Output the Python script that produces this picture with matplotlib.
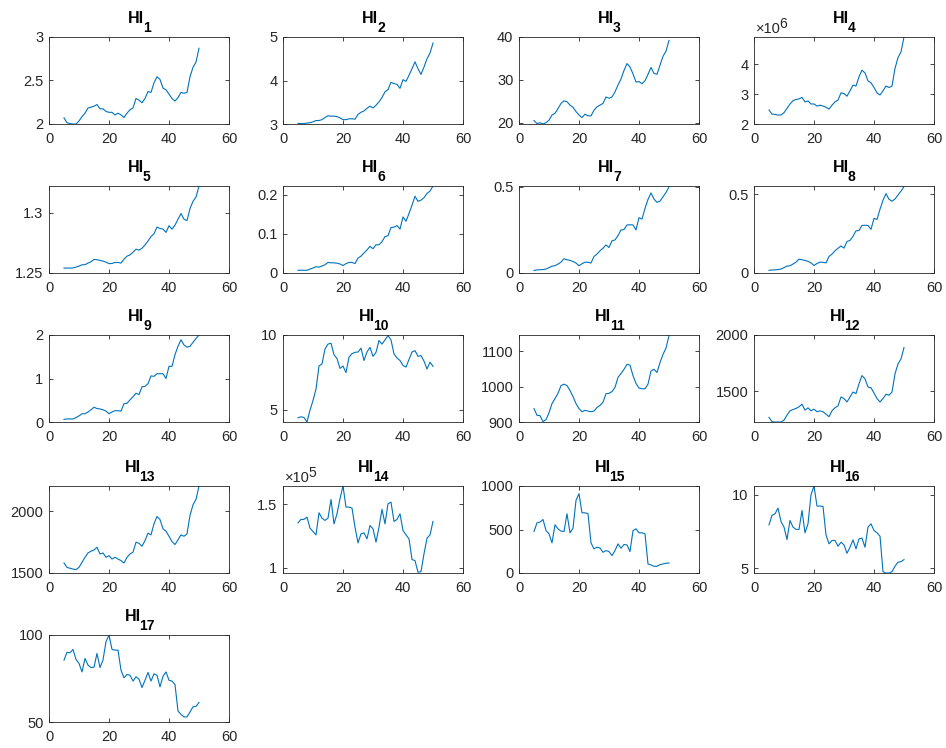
import numpy as np
import matplotlib
matplotlib.use("Agg")
import matplotlib.pyplot as plt
from matplotlib.textpath import TextPath
from matplotlib.font_manager import FontProperties

plt.rcParams['font.family'] = ['Liberation Sans', 'DejaVu Sans']

x = list(range(5, 51))

hi1 = [2.065, 2.01, 2.00, 1.995, 1.995, 2.03, 2.08, 2.12, 2.18, 2.19, 2.20, 2.22, 2.17, 2.17, 2.14, 2.13,
       2.13, 2.10, 2.12, 2.10, 2.07, 2.12, 2.16, 2.18, 2.29, 2.27, 2.24, 2.29, 2.37, 2.36, 2.47, 2.54,
       2.51, 2.41, 2.39, 2.34, 2.29, 2.26, 2.30, 2.36, 2.35, 2.36, 2.54, 2.65, 2.71, 2.87]
hi2 = [3.015, 3.01, 3.01, 3.02, 3.03, 3.05, 3.08, 3.08, 3.10, 3.15, 3.19, 3.18, 3.18, 3.17, 3.14, 3.10,
       3.10, 3.12, 3.12, 3.11, 3.22, 3.27, 3.30, 3.36, 3.41, 3.37, 3.43, 3.51, 3.61, 3.74, 3.79, 3.96,
       3.93, 3.91, 3.82, 4.02, 3.98, 4.12, 4.27, 4.43, 4.27, 4.14, 4.31, 4.50, 4.63, 4.86]
hi3 = [20.5, 19.8, 20.0, 19.7, 20.0, 20.6, 21.8, 22.2, 23.3, 24.5, 25.1, 24.9, 24.1, 23.6, 22.6, 21.8,
       21.2, 22.0, 21.6, 21.6, 22.9, 23.7, 24.1, 24.5, 26.0, 25.7, 26.0, 27.2, 28.8, 30.2, 32.2, 33.8,
       33.0, 31.4, 29.5, 29.6, 29.1, 29.8, 31.3, 32.9, 31.5, 31.3, 33.4, 35.5, 36.7, 39.2]
# units of 1e6
hi4 = [2.47, 2.33, 2.32, 2.30, 2.30, 2.38, 2.52, 2.67, 2.78, 2.82, 2.84, 2.89, 2.74, 2.77, 2.67, 2.67,
       2.60, 2.63, 2.60, 2.56, 2.50, 2.63, 2.74, 2.80, 3.04, 3.02, 2.93, 3.11, 3.30, 3.27, 3.58, 3.80,
       3.71, 3.44, 3.38, 3.22, 3.04, 2.97, 3.11, 3.27, 3.22, 3.27, 3.86, 4.22, 4.41, 4.91]
hi5 = [1.2541, 1.2541, 1.2541, 1.2542, 1.2549, 1.2557, 1.2568, 1.2569, 1.2582, 1.2593, 1.2612, 1.2610,
       1.2604, 1.2598, 1.2590, 1.2577, 1.2579, 1.2587, 1.2587, 1.2582, 1.2615, 1.2639, 1.2650, 1.2672,
       1.2697, 1.2689, 1.2705, 1.2732, 1.2765, 1.2801, 1.2825, 1.2880, 1.2869, 1.2863, 1.2836, 1.2891,
       1.2863, 1.2896, 1.2945, 1.2992, 1.2945, 1.2934, 1.3033, 1.3093, 1.3128, 1.3219]
hi6 = [0.0068, 0.007, 0.007, 0.007, 0.010, 0.0127, 0.016, 0.015, 0.018, 0.021, 0.027, 0.026, 0.026,
       0.025, 0.023, 0.019, 0.024, 0.027, 0.027, 0.024, 0.038, 0.043, 0.051, 0.059, 0.068, 0.062, 0.072,
       0.072, 0.080, 0.093, 0.095, 0.116, 0.117, 0.121, 0.112, 0.143, 0.132, 0.152, 0.173, 0.196, 0.183,
       0.186, 0.192, 0.203, 0.209, 0.222]
hi7 = [0.015, 0.018, 0.019, 0.020, 0.023, 0.031, 0.040, 0.042, 0.052, 0.063, 0.083, 0.077, 0.073, 0.067,
       0.058, 0.042, 0.054, 0.063, 0.062, 0.058, 0.096, 0.110, 0.129, 0.144, 0.163, 0.148, 0.187, 0.192,
       0.217, 0.250, 0.252, 0.279, 0.280, 0.279, 0.250, 0.321, 0.313, 0.375, 0.427, 0.465, 0.429, 0.410,
       0.417, 0.442, 0.467, 0.500]
hi8 = [0.017, 0.019, 0.020, 0.022, 0.025, 0.034, 0.044, 0.046, 0.057, 0.069, 0.088, 0.084, 0.080, 0.074,
       0.064, 0.048, 0.060, 0.069, 0.068, 0.064, 0.105, 0.120, 0.141, 0.157, 0.172, 0.158, 0.200, 0.207,
       0.233, 0.268, 0.270, 0.302, 0.303, 0.302, 0.277, 0.347, 0.340, 0.405, 0.462, 0.504, 0.468, 0.456,
       0.470, 0.495, 0.520, 0.548]
hi9 = [0.06, 0.07, 0.07, 0.07, 0.10, 0.14, 0.19, 0.19, 0.23, 0.28, 0.34, 0.31, 0.30, 0.28, 0.25, 0.19,
       0.23, 0.26, 0.26, 0.25, 0.42, 0.43, 0.51, 0.58, 0.66, 0.63, 0.81, 0.82, 0.88, 1.06, 1.05, 1.11,
       1.11, 1.11, 1.00, 1.28, 1.28, 1.55, 1.74, 1.89, 1.77, 1.72, 1.74, 1.83, 1.92, 2.00]
hi10 = [4.45, 4.52, 4.47, 4.17, 4.96, 5.61, 6.38, 7.92, 8.07, 9.06, 9.39, 9.45, 8.68, 8.42, 7.76, 7.92,
        7.48, 8.51, 8.75, 8.84, 8.86, 9.12, 8.29, 8.86, 9.17, 8.57, 8.84, 9.63, 9.39, 9.67, 9.96, 9.67,
        8.73, 8.46, 8.29, 7.96, 7.85, 8.36, 8.86, 8.95, 8.57, 8.62, 8.25, 7.72, 8.18, 7.90]
hi11 = [938, 919, 918, 901, 907, 926, 952, 966, 981, 1003, 1007, 1003, 989, 972, 952, 938, 929, 933,
        931, 929, 931, 941, 947, 956, 980, 981, 986, 998, 1026, 1037, 1049, 1063, 1061, 1031, 1009, 996,
        994, 994, 1007, 1044, 1049, 1040, 1068, 1091, 1109, 1144]
hi12 = [1269, 1231, 1228, 1228, 1228, 1245, 1289, 1327, 1339, 1348, 1363, 1386, 1333, 1354, 1327, 1342,
        1319, 1327, 1319, 1298, 1275, 1327, 1354, 1371, 1450, 1436, 1406, 1450, 1494, 1480, 1567, 1640,
        1611, 1538, 1532, 1485, 1436, 1406, 1436, 1474, 1465, 1494, 1655, 1743, 1787, 1889]
hi13 = [1581, 1546, 1538, 1532, 1527, 1546, 1586, 1627, 1662, 1676, 1686, 1708, 1654, 1662, 1627, 1640,
        1613, 1627, 1613, 1600, 1581, 1627, 1654, 1668, 1749, 1740, 1716, 1762, 1822, 1808, 1897, 1957,
        1932, 1857, 1838, 1797, 1754, 1730, 1768, 1808, 1797, 1816, 1965, 2051, 2095, 2203]
# units of 1e5
hi14 = [1.355, 1.382, 1.382, 1.400, 1.313, 1.287, 1.260, 1.434, 1.392, 1.374, 1.392, 1.539, 1.347, 1.426,
        1.545, 1.645, 1.479, 1.479, 1.471, 1.321, 1.197, 1.268, 1.276, 1.229, 1.334, 1.308, 1.203, 1.321,
        1.461, 1.347, 1.505, 1.518, 1.366, 1.382, 1.426, 1.295, 1.260, 1.229, 1.066, 1.058, 0.966, 0.971,
        1.111, 1.234, 1.260, 1.366]
hi15 = [477, 577, 585, 615, 488, 450, 346, 554, 508, 481, 477, 681, 462, 515, 835, 912, 692, 692, 681,
        346, 277, 296, 288, 238, 258, 246, 200, 258, 335, 285, 327, 323, 246, 488, 508, 462, 462, 450,
        104, 92, 77, 77, 96, 104, 112, 115]
hi16 = [7.95, 8.59, 8.70, 9.09, 8.18, 7.80, 6.95, 8.25, 7.80, 7.64, 7.64, 8.93, 7.41, 8.02, 10.0, 10.59,
        9.23, 9.23, 9.20, 7.27, 6.66, 6.89, 6.89, 6.50, 6.77, 6.59, 6.02, 6.43, 6.93, 6.32, 7.00, 7.05,
        6.43, 7.80, 8.02, 7.57, 7.41, 7.18, 4.77, 4.68, 4.68, 4.77, 5.14, 5.41, 5.45, 5.59]
hi17 = [85.6, 90.0, 89.8, 91.7, 86.0, 83.7, 78.8, 86.5, 82.7, 81.3, 81.5, 89.4, 81.3, 85.6, 96.2, 100.0,
        91.7, 91.3, 91.3, 79.8, 75.4, 77.3, 76.9, 73.5, 76.0, 74.6, 69.8, 74.0, 78.5, 73.5, 77.7, 76.9,
        70.2, 76.3, 78.8, 74.0, 73.5, 71.5, 56.3, 54.4, 52.9, 52.9, 55.8, 58.7, 59.0, 61.2]

series = [hi1, hi2, hi3, hi4, hi5, hi6, hi7, hi8, hi9, hi10, hi11, hi12, hi13, hi14, hi15, hi16, hi17]
ylims = [(1.995, 3), (3, 5), (19.7, 40), (2, 4.91), (1.25, 1.322), (0, 0.222), (0, 0.505), (0, 0.5525),
         (0, 2), (4.17, 10), (900, 1146), (1228, 2000), (1500, 2203), (0.96, 1.645), (0, 1000),
         (4.68, 10.59), (50, 100)]
yticks = [[2, 2.5, 3], [3, 4, 5], [20, 30, 40], [2, 3, 4], [1.25, 1.3], [0, 0.1, 0.2], [0, 0.5],
          [0, 0.5], [0, 1, 2], [5, 10], [900, 1000, 1100], [1500, 2000], [1500, 2000], [1, 1.5],
          [0, 500, 1000], [5, 10], [50, 100]]
exponents = {3: '6', 13: '5'}
xticks = [0, 20, 40, 60]

W, H = 946, 748
col_left = [49, 283, 519, 754]
row_top = [37, 186, 335, 486, 635]
aw, ah = 180, 87
line_c = '#0072BD'
ax_c = '#262626'
tick_fs = 10.5


def text_w(s, size, weight='normal'):
    # width in pixels at dpi 100
    fp = FontProperties(family='Liberation Sans', size=size, weight=weight)
    return TextPath((0, 0), s, prop=fp).get_extents().width * 100 / 72


fig = plt.figure(figsize=(W / 100, H / 100), dpi=100)
for i, y in enumerate(series):
    r, c = divmod(i, 4)
    ax = fig.add_axes([col_left[c] / W, 1 - (row_top[r] + ah) / H, aw / W, ah / H])
    ax.plot(x, y, color=line_c, lw=0.8)
    ax.set_xlim(0, 60)
    ax.set_ylim(*ylims[i])
    ax.set_xticks(xticks)
    ax.set_yticks(yticks[i])
    ax.set_yticklabels(['%g' % v for v in yticks[i]])
    ax.tick_params(direction='in', length=3, width=0.6, top=True, right=True,
                   labelsize=tick_fs, colors=ax_c)
    ax.tick_params(axis='x', pad=6)
    ax.tick_params(axis='y', pad=4)
    for s in ax.spines.values():
        s.set_color(ax_c)
        s.set_linewidth(0.6)

    # title: bold "HI" with a near full-size subscript, MATLAB style
    sub = str(i + 1)
    w1 = text_w('HI', 11.5, 'bold') + 1
    w2 = text_w(sub, 10, 'bold')
    x0 = -(w1 + w2) / 2
    ax.annotate('HI', (0.5, 1), xycoords='axes fraction', xytext=(x0, 14),
                textcoords='offset pixels', ha='left', va='baseline',
                fontsize=11.5, fontweight='bold', color='black')
    ax.annotate(sub, (0.5, 1), xycoords='axes fraction', xytext=(x0 + w1, 5),
                textcoords='offset pixels', ha='left', va='baseline',
                fontsize=10, fontweight='bold', color='black')

    if i in exponents:
        wb = text_w('\u00d710', 10.5) + 0.5
        ax.annotate('\u00d710', (0, 1), xycoords='axes fraction', xytext=(2, 4),
                    textcoords='offset pixels', ha='left', va='baseline',
                    fontsize=10.5, color=ax_c)
        ax.annotate(exponents[i], (0, 1), xycoords='axes fraction', xytext=(2 + wb, 9),
                    textcoords='offset pixels', ha='left', va='baseline',
                    fontsize=10, color=ax_c)

fig.savefig('out.png', dpi=100)
